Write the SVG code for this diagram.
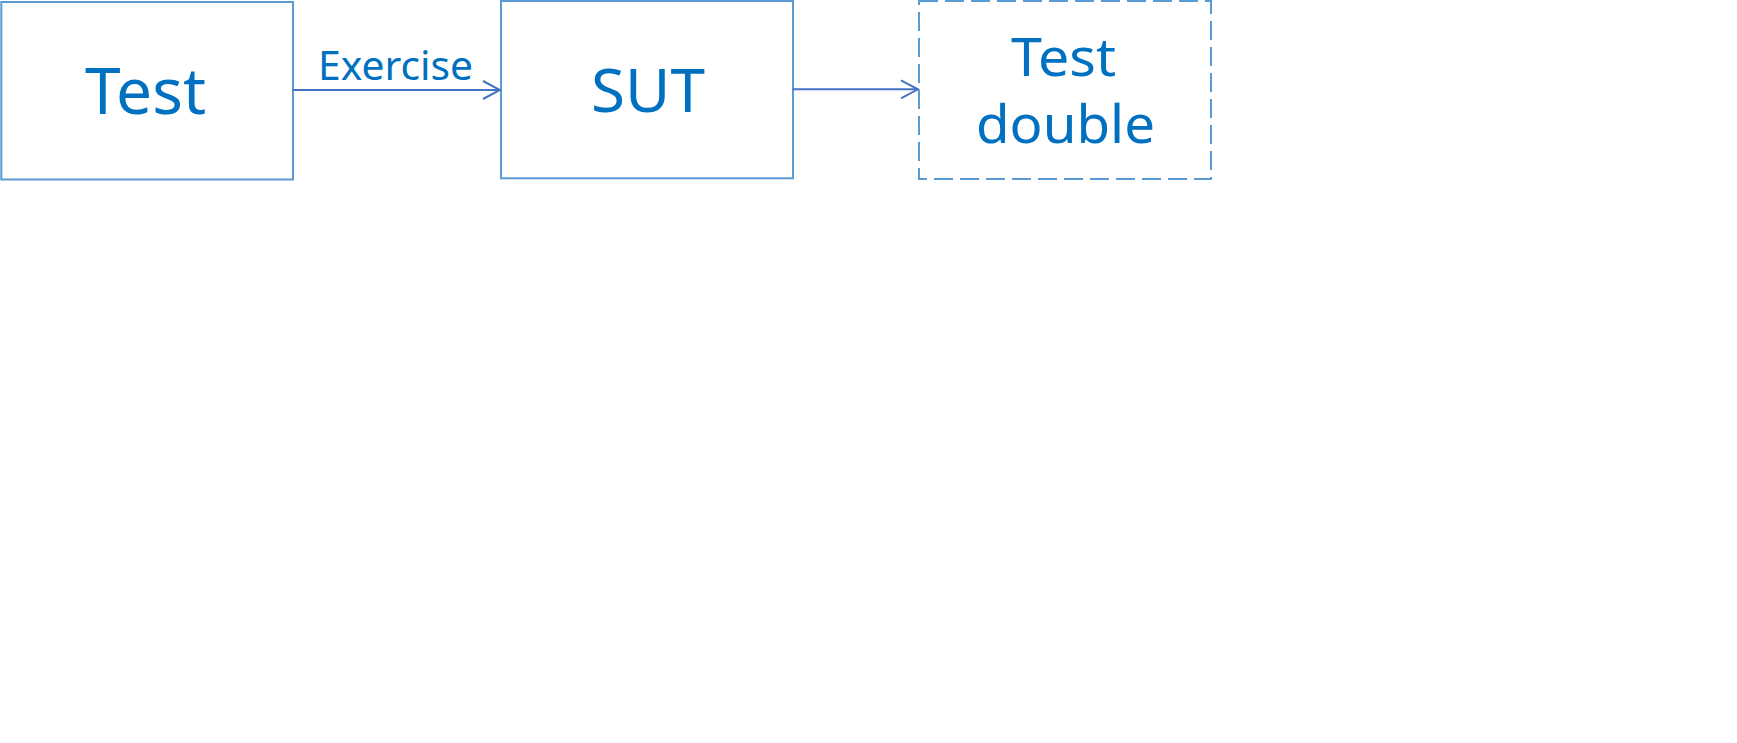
<svg xmlns="http://www.w3.org/2000/svg" width="1737" height="743" viewBox="0 0 1737 743">
<style>
.box{fill:#ffffff;stroke:#5B9BD5;stroke-width:2}
.dash{stroke-dasharray:19 7}
.lbl{font-family:"Noto Sans","Open Sans",sans-serif;fill:#0070C0}
.conn{stroke:#4472C4;stroke-width:2;fill:none}
</style>
<defs>
<marker id="arr" markerWidth="20" markerHeight="22" refX="18" refY="10" orient="auto" markerUnits="userSpaceOnUse">
<path d="M1,1 L18,10 L1,19" fill="none" stroke="#4472C4" stroke-width="2"/>
</marker>
</defs>
<rect width="1737" height="743" fill="#ffffff"/>
<g id="node-test">
<rect class="box" x="1.3" y="2" width="291.7" height="177.5"/>
<text class="lbl" x="85" y="114" font-size="63" textLength="121" lengthAdjust="spacingAndGlyphs">Test</text>
</g>
<g id="node-sut">
<rect class="box" x="501" y="1" width="292" height="177.3"/>
<text class="lbl" x="591" y="112.3" font-size="61" textLength="114" lengthAdjust="spacingAndGlyphs">SUT</text>
</g>
<g id="node-testdouble">
<rect class="box dash" x="919" y="1" width="292" height="178"/>
<text class="lbl" x="1011" y="76" font-size="53" textLength="105" lengthAdjust="spacingAndGlyphs">Test</text>
<text class="lbl" x="976" y="143" font-size="53.5" textLength="179" lengthAdjust="spacingAndGlyphs">double</text>
</g>
<g id="connectors">
<line class="conn" x1="293" y1="90" x2="500" y2="90" marker-end="url(#arr)"/>
<text class="lbl" x="318" y="80" font-size="40" textLength="155" lengthAdjust="spacingAndGlyphs">Exercise</text>
<line class="conn" x1="793" y1="89.3" x2="918" y2="89.3" marker-end="url(#arr)"/>
</g>
</svg>
